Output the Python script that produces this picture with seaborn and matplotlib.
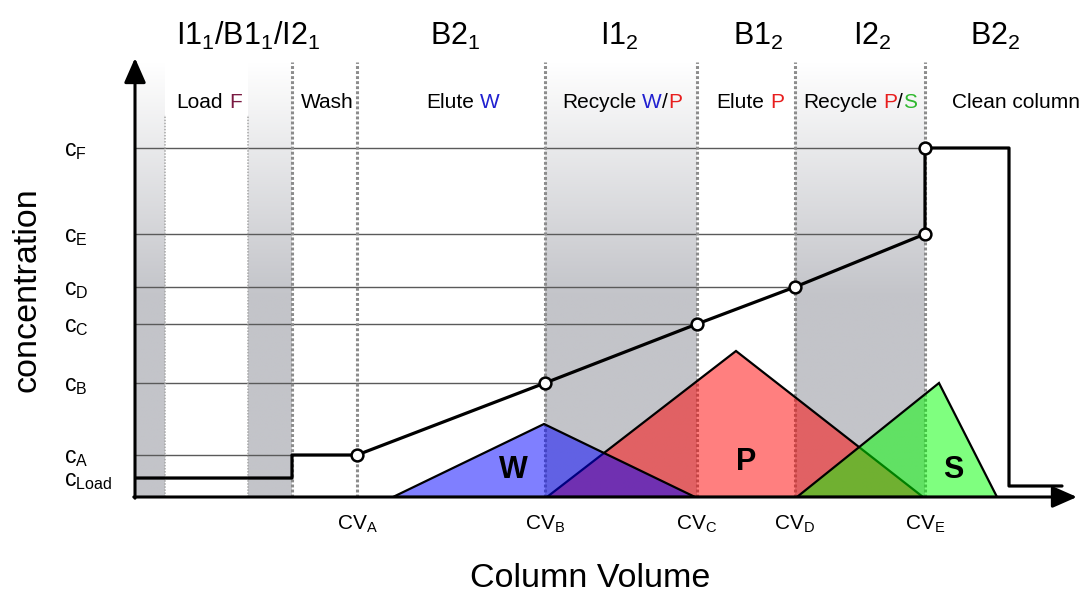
import numpy as np
import pandas as pd
import seaborn as sns
import matplotlib
matplotlib.use("Agg")
import matplotlib.pyplot as plt
from matplotlib.colors import LinearSegmentedColormap, to_rgba
from matplotlib.offsetbox import TextArea, HPacker, AnnotationBbox, DrawingArea

# ---------------- data ----------------
cv_names = ["A", "B", "C", "D", "E"]
cv_values = [2.22, 4.10, 5.62, 6.60, 7.90]
conc_names = ["Load", "A", "B", "C", "D", "E", "F"]
conc_values = [0.19, 0.42, 1.14, 1.73, 2.10, 2.63, 3.49]

load_end = 1.57          # end of load / start of wash step
feed_marks = [0.30, 1.13]
clean_end = 8.74
clean_level = 0.11
profile_end = 9.27

shaded_start = [0.0, 1.13, 4.10, 6.60]
shaded_end = [0.30, 1.57, 5.62, 7.90]
boundaries = [1.57, 2.22, 4.10, 5.62, 6.60, 7.90]

peak_names = ["W", "P", "S"]
peak_start = [2.58, 4.12, 6.62]
peak_apex_x = [4.09, 6.01, 8.04]
peak_apex_y = [0.73, 1.46, 1.14]
peak_end = [5.60, 7.88, 8.62]
peak_colors = ["#0000ff", "#ff0000", "#00ff00"]
peak_zorder = [4, 3, 5]
peak_label_x = [3.78, 6.11, 8.18]
peak_label_y = [0.27, 0.35, 0.27]

header_labels = [r"I1$_1$/B1$_1$/I2$_1$", r"B2$_1$", r"I1$_2$",
                 r"B1$_2$", r"I2$_2$", r"B2$_2$"]
header_x = [1.13, 3.20, 4.84, 6.23, 7.37, 8.60]

BLUE, RED, GREEN, MAROON = "#2020d0", "#e81e1e", "#2eb82e", "#7a1a42"
step_parts = [
    [("Load", "black"), (" ", None), ("F", MAROON)],
    [("Wash", "black")],
    [("Elute", "black"), (" ", None), ("W", BLUE)],
    [("Recycle", "black"), (" ", None), ("W", BLUE), ("/", "black"), ("P", RED)],
    [("Elute", "black"), (" ", None), ("P", RED)],
    [("Recycle", "black"), (" ", None), ("P", RED), ("/", "black"), ("S", GREEN)],
    [("Clean column", "black")],
]
step_x = [0.74, 1.92, 3.28, 4.87, 6.15, 7.25, 8.81]

# ---------------- style ----------------
sns.set_theme(style="white")
plt.rcParams["font.family"] = ["Liberation Sans", "DejaVu Sans"]
plt.rcParams["mathtext.fontset"] = "custom"
plt.rcParams["mathtext.rm"] = "Liberation Sans"
plt.rcParams["mathtext.it"] = "Liberation Sans:italic"
plt.rcParams["mathtext.bf"] = "Liberation Sans:bold"
plt.rcParams["mathtext.default"] = "regular"
plt.rcParams["text.color"] = "black"
plt.rcParams["axes.labelcolor"] = "black"
plt.rcParams["xtick.color"] = "black"
plt.rcParams["ytick.color"] = "black"

fig = plt.figure(figsize=(10.87, 5.92), dpi=100)
ax = fig.add_axes([135 / 1087, 95 / 592, 952 / 1087, 497 / 592])
ax.set_facecolor("white")
for s in ax.spines.values():
    s.set_visible(False)
ax.grid(False)

top = 4.35

# shaded gradient regions
cmap = LinearSegmentedColormap.from_list("g", ["#ffffff", "#c3c4c9"])
yy = np.linspace(0, top, 300)[:, None]
grad = np.clip((top - yy) / (top - 2.0), 0, 1)
for s0, s1 in zip(shaded_start, shaded_end):
    ax.imshow(grad, extent=(s0, s1, 0, top), origin="lower", aspect="auto",
              cmap=cmap, vmin=0, vmax=1, zorder=0, interpolation="bilinear")

# concentration profile points
profile_cv = [0, load_end, load_end] + cv_values + [cv_values[-1], clean_end, clean_end, profile_end]
profile_c = ([conc_values[0], conc_values[0], conc_values[1]] + conc_values[1:6]
             + [conc_values[6], conc_values[6], clean_level, clean_level])

# horizontal level lines
level_ends = [load_end] + cv_values + [cv_values[-1]]
ax.hlines(conc_values, 0, level_ends, colors="#5a5a5a", linewidth=1.0, zorder=1)

# vertical boundaries
ax.vlines(boundaries, 0, top, colors="#8c8c8c", linewidth=2.2,
          linestyles=(0, (0.95, 0.7)), zorder=2)
ax.vlines(feed_marks, 0, 3.82, colors="#a6a6a6", linewidth=1.1,
          linestyles=(0, (1, 1)), zorder=2)

# peaks
for name, s0, px, py, s1, col, z in zip(peak_names, peak_start, peak_apex_x, peak_apex_y,
                                         peak_end, peak_colors, peak_zorder):
    ax.fill([s0, px, s1], [0, py, 0], facecolor=to_rgba(col, 0.5),
            edgecolor="black", linewidth=1.6, zorder=z)
for name, lx, ly in zip(peak_names, peak_label_x, peak_label_y):
    ax.text(lx, ly, name, ha="center", va="center", fontsize=22,
            fontweight="bold", color="black", zorder=8)

# concentration profile
profile = pd.DataFrame({"cv": profile_cv, "conc": profile_c})
sns.lineplot(data=profile, x="cv", y="conc", sort=False, estimator=None,
             color="black", linewidth=2.3, ax=ax, zorder=6)
nodes = pd.DataFrame({"cv": cv_values + [cv_values[-1]],
                      "conc": conc_values[1:6] + [conc_values[6]]})
sns.scatterplot(data=nodes, x="cv", y="conc", s=72, color="white",
                edgecolor="black", linewidth=1.8, ax=ax, zorder=7)

# axes arrows
arrow = dict(arrowstyle="-|>,head_length=0.75,head_width=0.33", lw=2.2,
             color="black", mutation_scale=20, shrinkA=0, shrinkB=0)
ax.annotate("", xy=(0, 4.39), xytext=(0, -0.012), arrowprops=arrow,
            annotation_clip=False, zorder=9)
ax.annotate("", xy=(9.42, 0), xytext=(-0.012, 0), arrowprops=arrow,
            annotation_clip=False, zorder=9)

# ticks
ax.set_xticks(cv_values, [f"CV$_{{{n}}}$" for n in cv_names])
ax.set_yticks(conc_values, [f"c$_{{{n}}}$" for n in conc_names])
ax.tick_params(axis="x", length=0, pad=12, labelsize=15, labelcolor="black")
ax.tick_params(axis="y", length=0, pad=51, labelsize=16.5, labelcolor="black")
for lbl in ax.get_yticklabels():
    lbl.set_horizontalalignment("left")

ax.set_xlabel("Column Volume", fontsize=24.5, color="black")
ax.xaxis.set_label_coords(0.478, -0.163)
ax.xaxis.label.set_verticalalignment("center")
ax.set_ylabel("concentration", fontsize=24.5, color="black")
ax.yaxis.set_label_coords(-0.113, 0.4165)
ax.yaxis.label.set_verticalalignment("center")

# headers
for lab, hx in zip(header_labels, header_x):
    ax.text(hx, 4.52, lab, ha="center", va="baseline", fontsize=22, color="black")

# step labels with coloured species
fs = 15
for parts, sx in zip(step_parts, step_x):
    children = []
    for txt, col in parts:
        if txt == " ":
            children.append(DrawingArea(fs * 0.278, 1))
        else:
            children.append(TextArea(txt, textprops=dict(color=col, fontsize=fs)))
    box = HPacker(children=children, align="baseline", pad=0, sep=0)
    ab = AnnotationBbox(box, (sx, 3.94), xycoords="data", frameon=False,
                        box_alignment=(0.5, 0.5), pad=0, zorder=8)
    ax.add_artist(ab)

ax.set_xlim(0, 9.52)
ax.set_ylim(0, 4.97)

fig.savefig("out.png", dpi=100)
